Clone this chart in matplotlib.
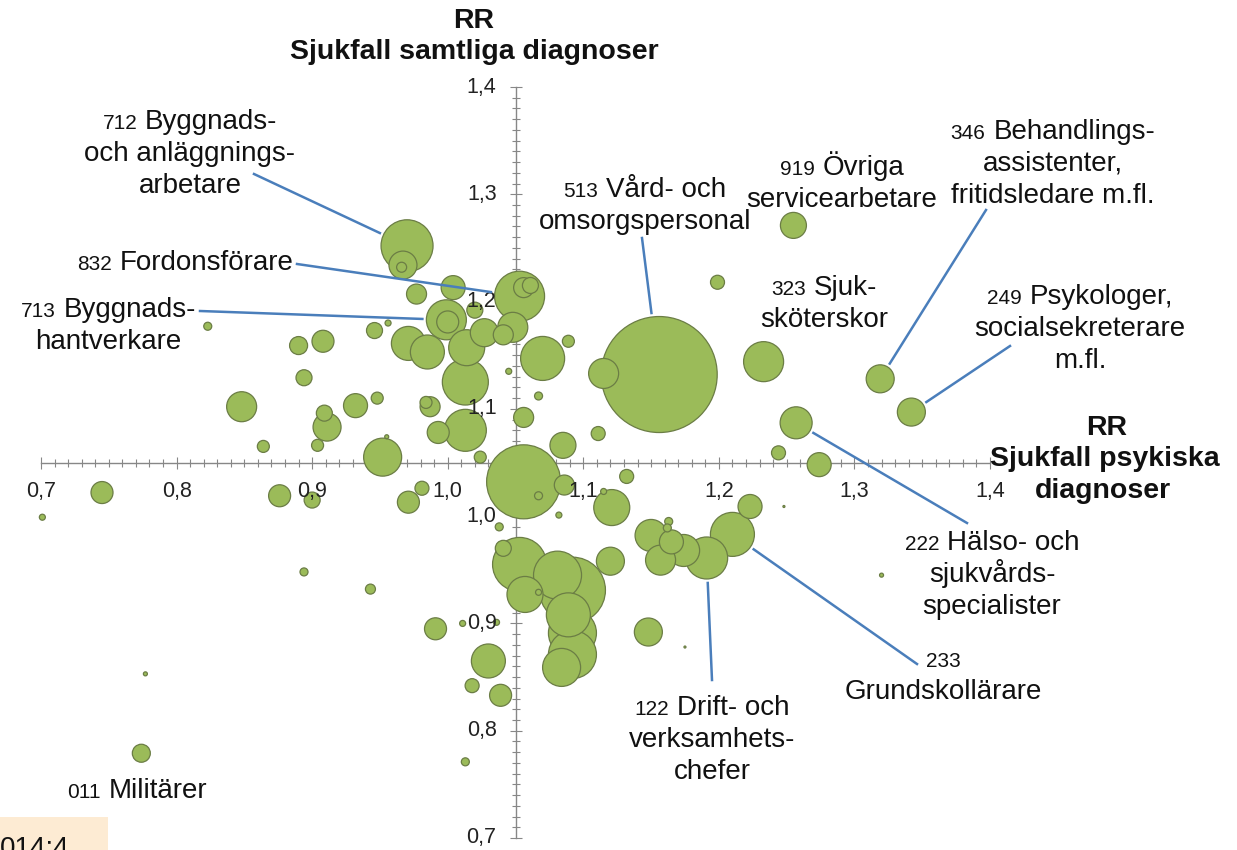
import matplotlib
matplotlib.use('Agg')
import matplotlib.pyplot as plt
from matplotlib.lines import Line2D
from matplotlib.patches import Rectangle
from matplotlib.ticker import MultipleLocator, NullFormatter
import numpy as np

W, H = 1237, 850
FONT = 'Liberation Sans'

# ---------------- data ----------------
# labelled occupations first (same order as the label lists below)
x_psyk = [0.970, 1.053, 0.999, 1.156, 1.255, 1.319, 1.233, 1.342, 1.257, 1.210, 1.191, 0.774,
          0.967, 0.966, 0.977, 1.004, 1.020, 1.000, 1.027, 1.041, 1.056, 1.061, 1.048, 0.971,
          0.985, 1.014, 1.013, 1.013, 0.993, 0.987, 0.984, 1.024, 0.952, 0.955, 0.948, 0.932,
          0.909, 0.911, 0.904, 0.864, 0.848, 0.894, 0.890, 0.908, 0.946, 0.956, 0.823, 1.045,
          1.056, 1.070, 1.089, 1.067, 1.115, 1.199, 1.244, 1.274, 1.111, 1.085, 1.056, 1.067,
          1.086, 1.132, 1.115, 1.121, 1.082, 1.038, 1.223, 1.150, 1.163, 1.162, 1.165, 1.174,
          1.157, 1.053, 1.041, 1.057, 1.092, 1.081, 1.089, 1.092, 1.092, 1.084, 1.067, 1.120,
          1.148, 1.175, 1.030, 1.018, 1.039, 1.036, 1.011, 0.991, 0.745, 0.701, 0.876, 0.900,
          0.894, 0.943, 0.971, 0.981, 1.013, 0.777, 1.320, 1.248]
y_samtliga = [1.252, 1.205, 1.183, 1.132, 1.271, 1.128, 1.144, 1.097, 1.087, 0.983, 0.961, 0.779,
              1.234, 1.232, 1.207, 1.213, 1.192, 1.181, 1.171, 1.169, 1.213, 1.215, 1.176, 1.161,
              1.153, 1.157, 1.125, 1.080, 1.078, 1.102, 1.106, 1.055, 1.055, 1.074, 1.110, 1.103,
              1.096, 1.083, 1.066, 1.065, 1.102, 1.129, 1.159, 1.163, 1.173, 1.180, 1.177, 1.135,
              1.092, 1.147, 1.163, 1.112, 1.133, 1.218, 1.059, 1.048, 1.077, 1.066, 1.032, 1.019,
              1.029, 1.037, 1.023, 1.008, 1.001, 0.990, 1.009, 0.982, 0.995, 0.989, 0.976, 0.968,
              0.959, 0.955, 0.970, 0.927, 0.931, 0.945, 0.908, 0.891, 0.871, 0.859, 0.929, 0.958,
              0.892, 0.878, 0.865, 0.842, 0.833, 0.901, 0.900, 0.895, 1.022, 0.999, 1.019, 1.015,
              0.948, 0.932, 1.013, 1.026, 0.771, 0.853, 0.945, 1.009]
# bubble value (relative number of employed, proportional to bubble area)
antal = [676, 625, 400, 3364, 169, 196, 400, 196, 256, 484, 441, 81,
         196, 25, 100, 144, 64, 121, 196, 100, 100, 64, 225, 289,
         289, 324, 529, 441, 121, 100, 36, 36, 361, 4, 36, 144,
         64, 196, 36, 36, 225, 64, 81, 121, 64, 9, 16, 9,
         100, 484, 36, 16, 225, 49, 49, 144, 49, 169, 1369, 16,
         100, 49, 9, 324, 9, 16, 144, 256, 16, 16, 144, 256,
         225, 729, 64, 324, 1089, 576, 484, 576, 576, 361, 9, 196,
         196, 1, 289, 49, 121, 9, 9, 121, 121, 9, 121, 64,
         16, 25, 121, 49, 16, 4, 4, 1]

yrkeskod = ['712', '832', '713', '513', '919', '346', '323', '249', '222', '233', '122', '011']
yrkesnamn = [
    ['Byggnads-', 'och anläggnings-', 'arbetare'],
    ['Fordonsförare'],
    ['Byggnads-', 'hantverkare'],
    ['Vård- och', 'omsorgspersonal'],
    ['Övriga', 'servicearbetare'],
    ['Behandlings-', 'assistenter,', 'fritidsledare m.fl.'],
    ['Sjuk-', 'sköterskor'],
    ['Psykologer,', 'socialsekreterare', 'm.fl.'],
    ['Hälso- och', 'sjukvårds-', 'specialister'],
    ['', 'Grundskollärare'],
    ['Drift- och', 'verksamhets-', 'chefer'],
    ['Militärer'],
]
x_ticks = [0.7, 0.8, 0.9, 1.0, 1.1, 1.2, 1.3, 1.4]
y_ticks = [0.7, 0.8, 0.9, 1.0, 1.1, 1.2, 1.3, 1.4]
korsning = 1.05
x_titel = ['RR', 'Sjukfall psykiska', 'diagnoser']
y_titel = ['RR', 'Sjukfall samtliga diagnoser']

# ---------------- layout (pixels, top-origin) ----------------
# (centre x, first baseline y, leader-line start or None)
etikett_layout = [
    (190, 129, (254, 174)),
    (185, 270, (297, 264)),
    (108, 317, (200, 311)),
    (645, 197, (642, 238)),
    (842, 175, None),
    (1053, 139, (986, 210)),
    (824, 295, None),
    (1080, 304, (1010, 346)),
    (992, 550, (967, 523)),
    (943, 667, (917, 664)),
    (712, 715, (712, 680)),
    (137, 798, None),
]
RADAVST = 32

GREEN = '#9bbb59'
EDGE = '#6b7d45'
AXC = '#878787'
BLUE = '#4a7ebb'
TXT = '#111111'

fig = plt.figure(figsize=(W / 100, H / 100), dpi=100)
ax = fig.add_axes([41 / W, 12 / H, (990 - 41) / W, (838 - 87) / H])
ax.set_xlim(0.7, 1.4)
ax.set_ylim(0.7, 1.4)
ax.patch.set_visible(False)

for s in ['top', 'right']:
    ax.spines[s].set_visible(False)
ax.spines['left'].set_position(('data', korsning))
ax.spines['bottom'].set_position(('data', korsning))
for s in ['left', 'bottom']:
    ax.spines[s].set_color(AXC)
    ax.spines[s].set_linewidth(1.0)
    ax.spines[s].set_zorder(1)

ax.xaxis.set_major_locator(MultipleLocator(0.1))
ax.xaxis.set_minor_locator(MultipleLocator(0.01))
ax.yaxis.set_major_locator(MultipleLocator(0.1))
ax.yaxis.set_minor_locator(MultipleLocator(0.01))
ax.xaxis.set_major_formatter(NullFormatter())
ax.yaxis.set_major_formatter(NullFormatter())
ax.tick_params(which='major', direction='inout', length=8, width=0.8, color=AXC)
ax.tick_params(which='minor', direction='inout', length=5.8, width=0.8, color=AXC)
ax.xaxis.set_zorder(1)
ax.yaxis.set_zorder(1)

# bubbles, biggest first so small ones lie on top
xa = np.array(x_psyk)
ya = np.array(y_samtliga)
aa = np.array(antal, dtype=float)
order = np.argsort(-aa, kind='stable')
ax.scatter(xa[order], ya[order], s=aa[order] * (2 * 0.72) ** 2, c=GREEN,
           edgecolors=EDGE, linewidths=0.9, clip_on=False, zorder=3)

# tick labels drawn on top of bubbles
def fmt(v):
    return f'{v:.1f}'.replace('.', ',')

for v in x_ticks:
    ax.annotate(fmt(v), xy=(v, korsning), xytext=(0, -29), textcoords='offset pixels',
                ha='center', va='center', fontsize=15.5, family=FONT, color='#222222',
                zorder=6, annotation_clip=False)
for v in y_ticks:
    ax.annotate(fmt(v), xy=(korsning, v), xytext=(-19, 0), textcoords='offset pixels',
                ha='right', va='center', fontsize=15.5, family=FONT, color='#222222',
                zorder=6, annotation_clip=False)

renderer = fig.canvas.get_renderer()


def text_width(s, size, weight='normal'):
    t = fig.text(0, 0, s, fontsize=size, family=FONT, weight=weight)
    w = t.get_window_extent(renderer).width
    t.remove()
    return w


def put_line(parts, cx, by, weight='normal'):
    gap = 8
    widths = [text_width(s, sz, weight) for s, sz in parts]
    total = sum(widths) + gap * (len(parts) - 1)
    x = cx - total / 2
    for (s, sz), w in zip(parts, widths):
        fig.text(x / W, 1 - by / H, s, fontsize=sz, family=FONT, weight=weight,
                 ha='left', va='baseline', color=TXT, zorder=7)
        x += w + gap


def px(p):
    return (p[0] / W, 1 - p[1] / H)


for i, (kod, rader) in enumerate(zip(yrkeskod, yrkesnamn)):
    cx, by, start = etikett_layout[i]
    first = [(kod, 15)] + ([(rader[0], 20)] if rader[0] else [])
    put_line(first, cx, by)
    for j, r in enumerate(rader[1:], start=1):
        put_line([(r, 20)], cx, by + j * RADAVST)
    if start is not None:
        dx, dy = ax.transData.transform((x_psyk[i], y_samtliga[i]))
        cxp, cyp = dx, H - dy
        r = np.sqrt(antal[i]) + 4
        vx, vy = cxp - start[0], cyp - start[1]
        d = np.hypot(vx, vy)
        end = (cxp - vx / d * r, cyp - vy / d * r)
        fig.add_artist(Line2D([px(start)[0], px(end)[0]], [px(start)[1], px(end)[1]],
                              transform=fig.transFigure, color=BLUE, lw=1.8, zorder=4))

# axis titles
put_line([(y_titel[0], 20.5)], 474, 28, weight='bold')
put_line([(y_titel[1], 20.5)], 474, 59, weight='bold')
put_line([(x_titel[0], 20.5)], 1107, 435, weight='bold')
put_line([(x_titel[1], 20.5)], 1105, 466, weight='bold')
put_line([(x_titel[2], 20.5)], 1103, 498, weight='bold')

# source box in the lower-left corner (cut off in the original)
fig.patches.append(Rectangle((0, 0), 108 / W, 33 / H, transform=fig.transFigure,
                             facecolor='#fdebd3', edgecolor='none', zorder=0))
fig.text(0 / W, 1 - 856 / H, '014:4', fontsize=20, family=FONT, ha='left',
         va='baseline', color=TXT)

fig.savefig('out.png', dpi=100)
